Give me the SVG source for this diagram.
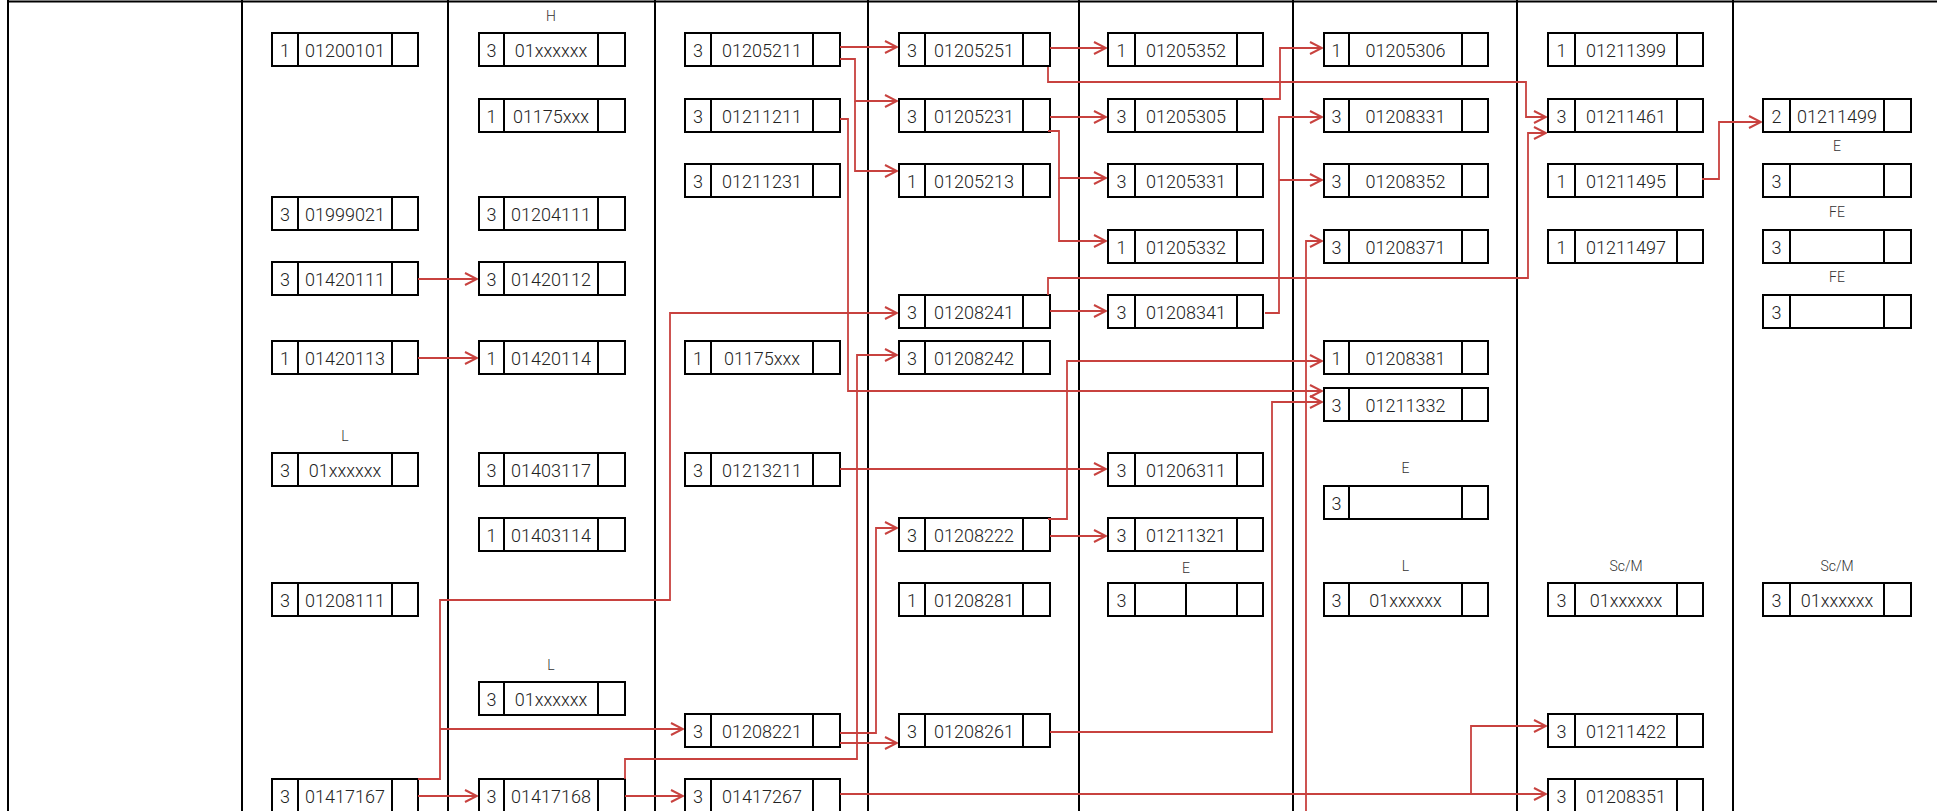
<svg xmlns="http://www.w3.org/2000/svg" width="1937" height="811" viewBox="0 0 1937 811">
<style>
.b{fill:#fff;stroke:#000;stroke-width:2}
.d{stroke:#000;stroke-width:2}
.g{stroke:#000;stroke-width:2}
.t{font-family:Roboto,"Liberation Sans",sans-serif;font-size:18px;font-weight:300;fill:#222;text-anchor:middle}
.lb{font-family:Roboto,"Liberation Sans",sans-serif;font-size:14px;font-weight:300;fill:#333;text-anchor:middle}
.c{fill:none;stroke:#c8423f;stroke-width:1.8}
.a{marker-end:url(#ah)}
</style>
<defs>
<marker id="ah" viewBox="0 0 14 14" refX="13" refY="7" markerWidth="14" markerHeight="14" markerUnits="userSpaceOnUse" orient="auto">
<path d="M1,1 L13,7 L1,13" fill="none" stroke="#c8423f" stroke-width="2"/>
</marker>
<g id="k2"><rect class="b" width="146" height="33"/><line class="d" x1="26" y1="0" x2="26" y2="33"/><line class="d" x1="120" y1="0" x2="120" y2="33"/></g>
<g id="k3"><rect class="b" width="146" height="33"/><line class="d" x1="25" y1="0" x2="25" y2="33"/><line class="d" x1="119" y1="0" x2="119" y2="33"/></g>
<g id="k4"><rect class="b" width="155" height="33"/><line class="d" x1="26" y1="0" x2="26" y2="33"/><line class="d" x1="128" y1="0" x2="128" y2="33"/></g>
<g id="k5"><rect class="b" width="151" height="33"/><line class="d" x1="26" y1="0" x2="26" y2="33"/><line class="d" x1="124" y1="0" x2="124" y2="33"/></g>
<g id="k6"><rect class="b" width="155" height="33"/><line class="d" x1="27" y1="0" x2="27" y2="33"/><line class="d" x1="129" y1="0" x2="129" y2="33"/></g>
<g id="k7"><rect class="b" width="164" height="33"/><line class="d" x1="25" y1="0" x2="25" y2="33"/><line class="d" x1="138" y1="0" x2="138" y2="33"/></g>
<g id="k8"><rect class="b" width="155" height="33"/><line class="d" x1="27" y1="0" x2="27" y2="33"/><line class="d" x1="129" y1="0" x2="129" y2="33"/></g>
<g id="k9"><rect class="b" width="148" height="33"/><line class="d" x1="27" y1="0" x2="27" y2="33"/><line class="d" x1="121" y1="0" x2="121" y2="33"/></g>
</defs>
<rect width="1937" height="811" fill="#fff"/>
<g id="grid">
<line class="g" x1="7" y1="1.5" x2="1937" y2="1.5" stroke-width="3"/>
<line class="g" x1="8" y1="0" x2="8" y2="811"/>
<line class="g" x1="242" y1="0" x2="242" y2="811"/>
<line class="g" x1="448" y1="0" x2="448" y2="811"/>
<line class="g" x1="655" y1="0" x2="655" y2="811"/>
<line class="g" x1="868" y1="0" x2="868" y2="811"/>
<line class="g" x1="1079" y1="0" x2="1079" y2="811"/>
<line class="g" x1="1293" y1="0" x2="1293" y2="811"/>
<line class="g" x1="1517" y1="0" x2="1517" y2="811"/>
<line class="g" x1="1733" y1="0" x2="1733" y2="811"/>
</g>
<g id="nodes">
<!-- column 2 -->
<g id="n01200101" transform="translate(272,33)"><use href="#k2"/><text class="t" x="13" y="23.5">1</text><text class="t" x="73" y="23.5">01200101</text></g>
<g id="n01999021" transform="translate(272,197)"><use href="#k2"/><text class="t" x="13" y="23.5">3</text><text class="t" x="73" y="23.5">01999021</text></g>
<g id="n01420111" transform="translate(272,262)"><use href="#k2"/><text class="t" x="13" y="23.5">3</text><text class="t" x="73" y="23.5">01420111</text></g>
<g id="n01420113" transform="translate(272,341)"><use href="#k2"/><text class="t" x="13" y="23.5">1</text><text class="t" x="73" y="23.5">01420113</text></g>
<g id="n01xxxxxx-c2" transform="translate(272,453)"><text class="lb" x="73" y="-12">L</text><use href="#k2"/><text class="t" x="13" y="23.5">3</text><text class="t" x="73" y="23.5">01xxxxxx</text></g>
<g id="n01208111" transform="translate(272,583)"><use href="#k2"/><text class="t" x="13" y="23.5">3</text><text class="t" x="73" y="23.5">01208111</text></g>
<g id="n01417167" transform="translate(272,779)"><use href="#k2"/><text class="t" x="13" y="23.5">3</text><text class="t" x="73" y="23.5">01417167</text></g>
<!-- column 3 -->
<g id="n01xxxxxx-c3a" transform="translate(479,33)"><text class="lb" x="72" y="-12">H</text><use href="#k3"/><text class="t" x="12.5" y="23.5">3</text><text class="t" x="72" y="23.5">01xxxxxx</text></g>
<g id="n01175xxx-c3" transform="translate(479,99)"><use href="#k3"/><text class="t" x="12.5" y="23.5">1</text><text class="t" x="72" y="23.5">01175xxx</text></g>
<g id="n01204111" transform="translate(479,197)"><use href="#k3"/><text class="t" x="12.5" y="23.5">3</text><text class="t" x="72" y="23.5">01204111</text></g>
<g id="n01420112" transform="translate(479,262)"><use href="#k3"/><text class="t" x="12.5" y="23.5">3</text><text class="t" x="72" y="23.5">01420112</text></g>
<g id="n01420114" transform="translate(479,341)"><use href="#k3"/><text class="t" x="12.5" y="23.5">1</text><text class="t" x="72" y="23.5">01420114</text></g>
<g id="n01403117" transform="translate(479,453)"><use href="#k3"/><text class="t" x="12.5" y="23.5">3</text><text class="t" x="72" y="23.5">01403117</text></g>
<g id="n01403114" transform="translate(479,518)"><use href="#k3"/><text class="t" x="12.5" y="23.5">1</text><text class="t" x="72" y="23.5">01403114</text></g>
<g id="n01xxxxxx-c3b" transform="translate(479,682)"><text class="lb" x="72" y="-12">L</text><use href="#k3"/><text class="t" x="12.5" y="23.5">3</text><text class="t" x="72" y="23.5">01xxxxxx</text></g>
<g id="n01417168" transform="translate(479,779)"><use href="#k3"/><text class="t" x="12.5" y="23.5">3</text><text class="t" x="72" y="23.5">01417168</text></g>
<!-- column 4 -->
<g id="n01205211" transform="translate(685,33)"><use href="#k4"/><text class="t" x="13" y="23.5">3</text><text class="t" x="77" y="23.5">01205211</text></g>
<g id="n01211211" transform="translate(685,99)"><use href="#k4"/><text class="t" x="13" y="23.5">3</text><text class="t" x="77" y="23.5">01211211</text></g>
<g id="n01211231" transform="translate(685,164)"><use href="#k4"/><text class="t" x="13" y="23.5">3</text><text class="t" x="77" y="23.5">01211231</text></g>
<g id="n01175xxx-c4" transform="translate(685,341)"><use href="#k4"/><text class="t" x="13" y="23.5">1</text><text class="t" x="77" y="23.5">01175xxx</text></g>
<g id="n01213211" transform="translate(685,453)"><use href="#k4"/><text class="t" x="13" y="23.5">3</text><text class="t" x="77" y="23.5">01213211</text></g>
<g id="n01208221" transform="translate(685,714)"><use href="#k4"/><text class="t" x="13" y="23.5">3</text><text class="t" x="77" y="23.5">01208221</text></g>
<g id="n01417267" transform="translate(685,779)"><use href="#k4"/><text class="t" x="13" y="23.5">3</text><text class="t" x="77" y="23.5">01417267</text></g>
<!-- column 5 -->
<g id="n01205251" transform="translate(899,33)"><use href="#k5"/><text class="t" x="13" y="23.5">3</text><text class="t" x="75" y="23.5">01205251</text></g>
<g id="n01205231" transform="translate(899,99)"><use href="#k5"/><text class="t" x="13" y="23.5">3</text><text class="t" x="75" y="23.5">01205231</text></g>
<g id="n01205213" transform="translate(899,164)"><use href="#k5"/><text class="t" x="13" y="23.5">1</text><text class="t" x="75" y="23.5">01205213</text></g>
<g id="n01208241" transform="translate(899,295)"><use href="#k5"/><text class="t" x="13" y="23.5">3</text><text class="t" x="75" y="23.5">01208241</text></g>
<g id="n01208242" transform="translate(899,341)"><use href="#k5"/><text class="t" x="13" y="23.5">3</text><text class="t" x="75" y="23.5">01208242</text></g>
<g id="n01208222" transform="translate(899,518)"><use href="#k5"/><text class="t" x="13" y="23.5">3</text><text class="t" x="75" y="23.5">01208222</text></g>
<g id="n01208281" transform="translate(899,583)"><use href="#k5"/><text class="t" x="13" y="23.5">1</text><text class="t" x="75" y="23.5">01208281</text></g>
<g id="n01208261" transform="translate(899,714)"><use href="#k5"/><text class="t" x="13" y="23.5">3</text><text class="t" x="75" y="23.5">01208261</text></g>
<!-- column 6 -->
<g id="n01205352" transform="translate(1108,33)"><use href="#k6"/><text class="t" x="13.5" y="23.5">1</text><text class="t" x="78" y="23.5">01205352</text></g>
<g id="n01205305" transform="translate(1108,99)"><use href="#k6"/><text class="t" x="13.5" y="23.5">3</text><text class="t" x="78" y="23.5">01205305</text></g>
<g id="n01205331" transform="translate(1108,164)"><use href="#k6"/><text class="t" x="13.5" y="23.5">3</text><text class="t" x="78" y="23.5">01205331</text></g>
<g id="n01205332" transform="translate(1108,230)"><use href="#k6"/><text class="t" x="13.5" y="23.5">1</text><text class="t" x="78" y="23.5">01205332</text></g>
<g id="n01208341" transform="translate(1108,295)"><use href="#k6"/><text class="t" x="13.5" y="23.5">3</text><text class="t" x="78" y="23.5">01208341</text></g>
<g id="n01206311" transform="translate(1108,453)"><use href="#k6"/><text class="t" x="13.5" y="23.5">3</text><text class="t" x="78" y="23.5">01206311</text></g>
<g id="n01211321" transform="translate(1108,518)"><use href="#k6"/><text class="t" x="13.5" y="23.5">3</text><text class="t" x="78" y="23.5">01211321</text></g>
<g id="nE-c6" transform="translate(1108,583)"><text class="lb" x="78" y="-10">E</text><use href="#k6"/><line class="d" x1="78" y1="0" x2="78" y2="33"/><text class="t" x="13.5" y="23.5">3</text></g>
<!-- column 7 -->
<g id="n01205306" transform="translate(1324,33)"><use href="#k7"/><text class="t" x="12.5" y="23.5">1</text><text class="t" x="81.5" y="23.5">01205306</text></g>
<g id="n01208331" transform="translate(1324,99)"><use href="#k7"/><text class="t" x="12.5" y="23.5">3</text><text class="t" x="81.5" y="23.5">01208331</text></g>
<g id="n01208352" transform="translate(1324,164)"><use href="#k7"/><text class="t" x="12.5" y="23.5">3</text><text class="t" x="81.5" y="23.5">01208352</text></g>
<g id="n01208371" transform="translate(1324,230)"><use href="#k7"/><text class="t" x="12.5" y="23.5">3</text><text class="t" x="81.5" y="23.5">01208371</text></g>
<g id="n01208381" transform="translate(1324,341)"><use href="#k7"/><text class="t" x="12.5" y="23.5">1</text><text class="t" x="81.5" y="23.5">01208381</text></g>
<g id="n01211332" transform="translate(1324,388)"><use href="#k7"/><text class="t" x="12.5" y="23.5">3</text><text class="t" x="81.5" y="23.5">01211332</text></g>
<g id="nE-c7" transform="translate(1324,486)"><text class="lb" x="81.5" y="-13">E</text><use href="#k7"/><text class="t" x="12.5" y="23.5">3</text></g>
<g id="n01xxxxxx-c7" transform="translate(1324,583)"><text class="lb" x="81.5" y="-12">L</text><use href="#k7"/><text class="t" x="12.5" y="23.5">3</text><text class="t" x="81.5" y="23.5">01xxxxxx</text></g>
<!-- column 8 -->
<g id="n01211399" transform="translate(1548,33)"><use href="#k8"/><text class="t" x="13.5" y="23.5">1</text><text class="t" x="78" y="23.5">01211399</text></g>
<g id="n01211461" transform="translate(1548,99)"><use href="#k8"/><text class="t" x="13.5" y="23.5">3</text><text class="t" x="78" y="23.5">01211461</text></g>
<g id="n01211495" transform="translate(1548,164)"><use href="#k8"/><text class="t" x="13.5" y="23.5">1</text><text class="t" x="78" y="23.5">01211495</text></g>
<g id="n01211497" transform="translate(1548,230)"><use href="#k8"/><text class="t" x="13.5" y="23.5">1</text><text class="t" x="78" y="23.5">01211497</text></g>
<g id="n01xxxxxx-c8" transform="translate(1548,583)"><text class="lb" x="78" y="-12">Sc/M</text><use href="#k8"/><text class="t" x="13.5" y="23.5">3</text><text class="t" x="78" y="23.5">01xxxxxx</text></g>
<g id="n01211422" transform="translate(1548,714)"><use href="#k8"/><text class="t" x="13.5" y="23.5">3</text><text class="t" x="78" y="23.5">01211422</text></g>
<g id="n01208351" transform="translate(1548,779)"><use href="#k8"/><text class="t" x="13.5" y="23.5">3</text><text class="t" x="78" y="23.5">01208351</text></g>
<!-- column 9 -->
<g id="n01211499" transform="translate(1763,99)"><use href="#k9"/><text class="t" x="13.5" y="23.5">2</text><text class="t" x="74" y="23.5">01211499</text></g>
<g id="nE-c9" transform="translate(1763,164)"><text class="lb" x="74" y="-13">E</text><use href="#k9"/><text class="t" x="13.5" y="23.5">3</text></g>
<g id="nFE-c9a" transform="translate(1763,230)"><text class="lb" x="74" y="-13">FE</text><use href="#k9"/><text class="t" x="13.5" y="23.5">3</text></g>
<g id="nFE-c9b" transform="translate(1763,295)"><text class="lb" x="74" y="-13">FE</text><use href="#k9"/><text class="t" x="13.5" y="23.5">3</text></g>
<g id="n01xxxxxx-c9" transform="translate(1763,583)"><text class="lb" x="74" y="-12">Sc/M</text><use href="#k9"/><text class="t" x="13.5" y="23.5">3</text><text class="t" x="74" y="23.5">01xxxxxx</text></g>
</g>
<g id="connectors">
<path class="c a" d="M418 279H477"/>
<path class="c a" d="M418 358H477"/>
<path class="c a" d="M418 796H477"/>
<path class="c a" d="M418 779H440V600H670V313H897"/>
<path class="c a" d="M440 729H683"/>
<path class="c a" d="M625 796H683"/>
<path class="c a" d="M625 779V759H857V355H897"/>
<path class="c a" d="M840 47H897"/>
<path class="c a" d="M840 59H855V101H897"/>
<path class="c a" d="M855 101V171H897"/>
<path class="c a" d="M840 119H848V391H1322"/>
<path class="c a" d="M840 469H1106"/>
<path class="c a" d="M840 733H876V528H897"/>
<path class="c a" d="M840 743H897"/>
<path class="c a" d="M1050 48H1106"/>
<path class="c a" d="M1048 67V82H1526V117H1546"/>
<path class="c a" d="M1050 117H1106"/>
<path class="c a" d="M1048 131H1059V178H1106"/>
<path class="c a" d="M1059 178V241H1106"/>
<path class="c a" d="M1050 311H1106"/>
<path class="c a" d="M1048 295V278H1528V133H1546"/>
<path class="c a" d="M1050 536H1106"/>
<path class="c a" d="M1048 519H1067V361H1322"/>
<path class="c a" d="M1050 732H1272V402H1322"/>
<path class="c a" d="M1263 99H1280V48H1322"/>
<path class="c a" d="M1265 313H1279V117H1322"/>
<path class="c a" d="M1279 180H1322"/>
<path class="c a" d="M1306 811V241H1322"/>
<path class="c a" d="M840 794H1546"/>
<path class="c a" d="M1471 794V726H1546"/>
<path class="c a" d="M1702 179H1719V122H1761"/>
</g>
</svg>
